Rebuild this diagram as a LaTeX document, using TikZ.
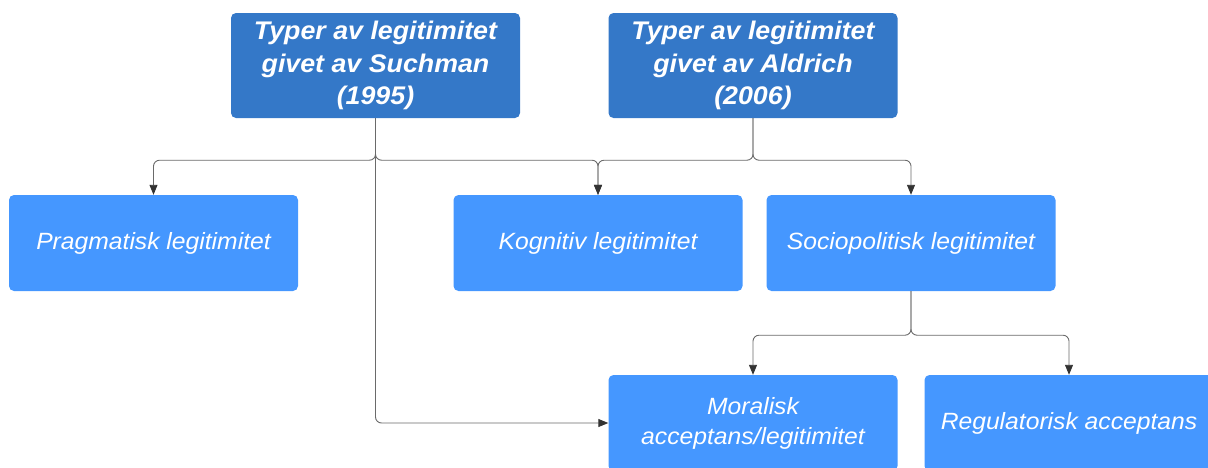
\documentclass[tikz,border=0pt]{standalone}
\usepackage{fontspec}
\setmainfont{Liberation Sans}
\newfontfamily\boxfont[FakeStretch=1.05]{Liberation Sans}
\usetikzlibrary{arrows.meta}
\definecolor{darkbox}{HTML}{3478C8}
\definecolor{lightbox}{HTML}{4597FF}
\definecolor{linegray}{HTML}{6A6A6A}

\begin{document}
\begin{tikzpicture}[x=1pt, y=-1pt,
  topbox/.style={fill=darkbox, rounded corners=5pt, minimum width=289pt, minimum height=105pt,
    inner sep=0pt, text=white, align=center, font=\boxfont\fontsize{25.5}{32.5}\selectfont\bfseries\itshape},
  subbox/.style={fill=lightbox, rounded corners=5pt, minimum width=289pt, minimum height=96pt,
    inner sep=0pt, text=white, align=center, font=\boxfont\fontsize{23.5}{30}\selectfont\itshape},
  link/.style={draw=linegray, line width=0.9pt, rounded corners=6pt,
    -{Triangle[length=10pt, width=8pt, color=black!80]}}]
\useasboundingbox (0,0) rectangle (1208,467);
\clip (0,0) rectangle (1208,467);

\node[topbox] (suchman) at (375.5, 65.5) {Typer av legitimitet\\givet av Suchman\\(1995)};
\node[topbox] (aldrich) at (753, 65.5) {Typer av legitimitet\\givet av Aldrich\\(2006)};

\node[subbox] (prag) at (153.5, 243) {Pragmatisk legitimitet};
\node[subbox] (kogn) at (598, 243) {Kognitiv legitimitet};
\node[subbox] (socio) at (911, 243) {Sociopolitisk legitimitet};
\node[subbox] (moral) at (753, 423) {Moralisk\\acceptans/legitimitet};
\node[subbox] (reg) at (1069, 423) {Regulatorisk acceptans};

\draw[link] (suchman.south) -- ++(0,42) -| (prag.north);
\draw[link] (suchman.south) -- ++(0,42) -| (kogn.north);
\draw[link] (suchman.south) |- (moral.west);
\draw[link] (aldrich.south) -- ++(0,42) -| (kogn.north);
\draw[link] (aldrich.south) -- ++(0,42) -| (socio.north);
\draw[link] (socio.south) -- ++(0,44) -| (moral.north);
\draw[link] (socio.south) -- ++(0,44) -| (reg.north);
\end{tikzpicture}
\end{document}
